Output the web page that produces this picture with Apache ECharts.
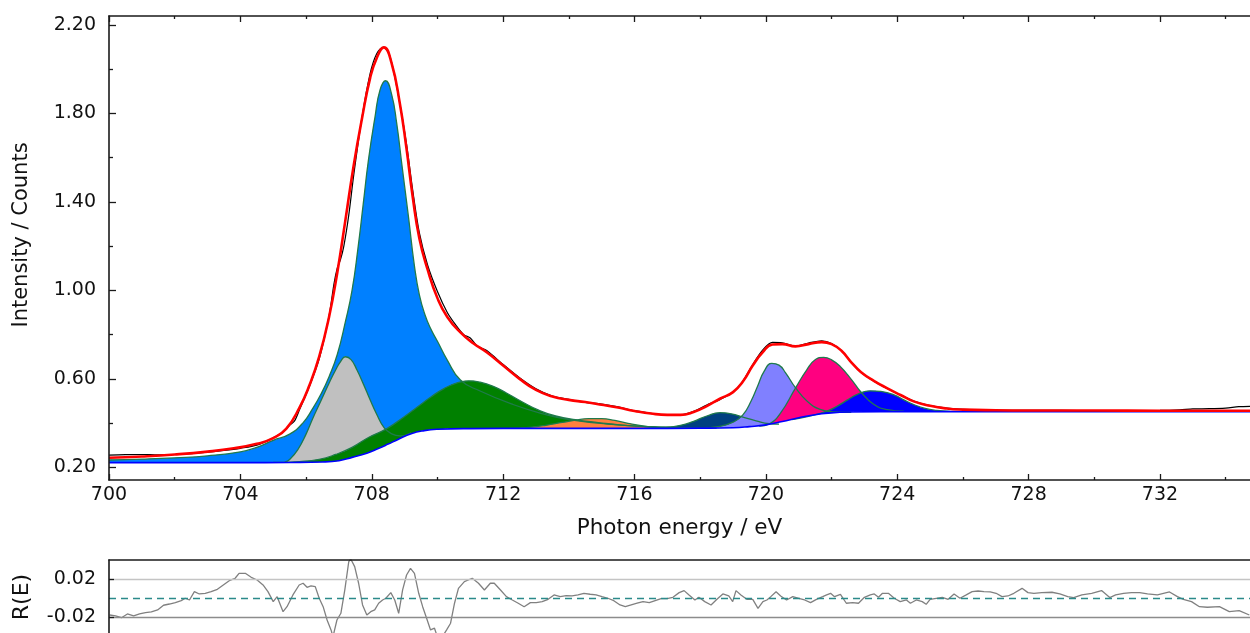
<!DOCTYPE html>
<html>
<head>
<meta charset="utf-8">
<script src="https://cdn.jsdelivr.net/npm/echarts@6/dist/echarts.min.js"></script>
<style>
  html, body { margin: 0; padding: 0; background: #fff; }
  #chart { width: 1250px; height: 633px; }
</style>
</head>
<body>
<div id="chart"></div>
<script>
// Fe 2p spectrum: measured counts, fit envelope, Shirley background and fit components
// Each list holds [photon energy (eV), intensity] pairs.
const measured = [[700.0,0.255],[700.5,0.257],[701.0,0.258],[701.5,0.256],[702.0,0.258],[702.5,0.262],[703.0,0.268],[703.5,0.276],[704.0,0.286],[704.5,0.30],[705.0,0.333],[705.3,0.36],[705.5,0.39],[705.65,0.41],[705.8,0.46],[706.1,0.565],[706.4,0.69],[706.7,0.885],[706.85,1.03],[706.95,1.10],[707.05,1.14],[707.15,1.20],[707.3,1.34],[707.45,1.52],[707.7,1.78],[707.95,1.98],[708.15,2.07],[708.35,2.10],[708.55,2.06],[708.8,1.89],[709.05,1.67],[709.25,1.45],[709.45,1.26],[709.7,1.115],[710.0,0.995],[710.3,0.90],[710.55,0.845],[710.8,0.80],[711.0,0.785],[711.2,0.75],[711.5,0.728],[712.0,0.665],[712.5,0.605],[713.0,0.555],[713.5,0.522],[714.0,0.507],[714.5,0.494],[715.0,0.486],[715.5,0.473],[716.0,0.456],[716.5,0.444],[717.0,0.436],[717.4,0.437],[717.8,0.453],[718.2,0.482],[718.6,0.506],[719.0,0.54],[719.3,0.59],[719.6,0.665],[719.9,0.73],[720.2,0.765],[720.5,0.763],[720.9,0.748],[721.3,0.762],[721.7,0.772],[722.0,0.76],[722.3,0.728],[722.6,0.676],[722.9,0.628],[723.3,0.588],[723.7,0.556],[724.1,0.526],[724.5,0.50],[725.0,0.479],[725.5,0.468],[726.0,0.462],[727.0,0.458],[728.0,0.457],[729.0,0.457],[730.0,0.456],[731.0,0.456],[732.0,0.457],[732.6,0.46],[733.0,0.464],[733.5,0.465],[734.0,0.468],[734.4,0.474],[734.75,0.476]];

const envelope = [[700.0,0.243],[701.0,0.249],[702.0,0.258],[703.0,0.271],[703.8,0.286],[704.5,0.306],[705.0,0.332],[705.4,0.375],[705.8,0.47],[706.1,0.57],[706.4,0.70],[706.7,0.88],[706.95,1.08],[707.2,1.32],[707.45,1.565],[707.7,1.775],[707.95,1.96],[708.15,2.05],[708.37,2.099],[708.6,2.03],[708.85,1.85],[709.05,1.65],[709.25,1.42],[709.45,1.235],[709.7,1.095],[710.0,0.965],[710.3,0.88],[710.7,0.81],[711.1,0.76],[711.5,0.72],[712.0,0.66],[712.5,0.60],[713.0,0.55],[713.5,0.52],[714.0,0.505],[714.5,0.495],[715.0,0.483],[715.5,0.47],[716.0,0.455],[716.5,0.443],[717.0,0.437],[717.4,0.437],[717.8,0.45],[718.2,0.477],[718.6,0.51],[719.0,0.54],[719.3,0.588],[719.6,0.66],[719.9,0.72],[720.2,0.755],[720.5,0.757],[720.9,0.747],[721.3,0.757],[721.7,0.766],[722.0,0.757],[722.3,0.727],[722.6,0.675],[722.9,0.63],[723.3,0.59],[723.7,0.557],[724.1,0.527],[724.5,0.498],[725.0,0.478],[725.5,0.466],[726.0,0.461],[727.0,0.458],[728.0,0.457],[730.0,0.457],[732.0,0.456],[734.75,0.456]];

const background = [[700.0,0.221],[704.0,0.221],[705.5,0.222],[706.5,0.224],[707.0,0.23],[707.4,0.245],[707.85,0.264],[708.2,0.285],[708.5,0.305],[708.8,0.326],[709.2,0.352],[709.6,0.366],[710.0,0.372],[711.0,0.375],[713.0,0.376],[716.0,0.376],[718.0,0.377],[719.0,0.379],[719.5,0.384],[720.0,0.392],[720.5,0.407],[721.0,0.424],[721.5,0.438],[722.0,0.446],[722.5,0.45],[723.5,0.452],[734.75,0.452]];

// fit components (upper outline, background included)
const peakMain = [[700.0,0.233],[701.0,0.237],[702.0,0.243],[703.0,0.252],[704.0,0.27],[704.5,0.29],[705.0,0.322],[705.5,0.35],[705.9,0.40],[706.2,0.465],[706.45,0.53],[706.7,0.61],[706.95,0.71],[707.2,0.86],[707.4,1.0],[707.58,1.19],[707.74,1.39],[707.9,1.59],[708.1,1.785],[708.25,1.905],[708.42,1.948],[708.6,1.89],[708.76,1.755],[708.92,1.565],[709.12,1.33],[709.3,1.11],[709.45,0.98],[709.62,0.89],[709.8,0.825],[710.0,0.77],[710.3,0.685],[710.7,0.595],[711.3,0.545],[712.3,0.484],[713.3,0.438],[714.0,0.416],[715.3,0.394],[716.4,0.384],[717.5,0.379],[718.5,0.377]];
const peakLow = [[705.35,0.223],[705.5,0.235],[705.75,0.28],[706.0,0.35],[706.2,0.42],[706.45,0.50],[706.7,0.58],[706.9,0.64],[707.05,0.678],[707.2,0.70],[707.37,0.687],[707.55,0.64],[707.75,0.575],[707.95,0.505],[708.15,0.44],[708.38,0.378],[708.6,0.352],[708.86,0.342],[709.2,0.356]];
const peakBroad = [[705.0,0.222],[705.8,0.226],[706.4,0.236],[706.9,0.258],[707.4,0.29],[707.9,0.335],[708.46,0.375],[709.0,0.43],[709.4,0.474],[709.8,0.518],[710.2,0.556],[710.6,0.582],[710.95,0.591],[711.3,0.585],[711.7,0.566],[712.1,0.536],[712.6,0.494],[713.1,0.457],[713.6,0.432],[714.2,0.415],[714.9,0.402],[715.6,0.391],[716.4,0.384],[717.3,0.379],[718.0,0.377]];
const peakSat = [[712.2,0.376],[712.8,0.381],[713.3,0.39],[713.8,0.403],[714.2,0.413],[714.6,0.42],[715.0,0.42],[715.4,0.412],[715.8,0.399],[716.3,0.386],[716.8,0.378],[717.3,0.376]];
const peakPre = [[716.3,0.376],[716.9,0.38],[717.4,0.39],[717.8,0.408],[718.2,0.432],[718.6,0.447],[718.95,0.442],[719.3,0.427],[719.7,0.41],[720.1,0.397],[720.4,0.395]];
const peak2pA = [[718.0,0.378],[718.6,0.385],[719.0,0.404],[719.3,0.437],[719.55,0.5],[719.75,0.568],[719.95,0.635],[720.18,0.67],[720.4,0.662],[720.6,0.627],[720.9,0.56],[721.25,0.50],[721.65,0.462],[722.1,0.45],[722.6,0.449]];
const peak2pB = [[719.8,0.386],[720.1,0.396],[720.45,0.446],[720.9,0.558],[721.25,0.642],[721.5,0.686],[721.76,0.697],[722.0,0.686],[722.27,0.655],[722.6,0.598],[722.88,0.543],[723.28,0.485],[723.7,0.461],[724.2,0.454]];
const peak2pC = [[720.8,0.416],[721.3,0.43],[721.86,0.454],[722.2,0.479],[722.5,0.506],[722.8,0.531],[723.18,0.546],[723.5,0.543],[723.9,0.528],[724.2,0.505],[724.5,0.484],[724.85,0.466],[725.2,0.457],[725.6,0.453]];

// residual R(E)
const residual = [[700.02,-0.0175],[700.20,-0.0185],[700.38,-0.0203],[700.56,-0.0164],[700.75,-0.0185],[700.93,-0.0164],[701.11,-0.0150],[701.29,-0.0143],[701.48,-0.0122],[701.66,-0.0073],[701.84,-0.0060],[702.02,-0.0046],[702.20,-0.0025],[702.32,0.0000],[702.45,-0.0018],[702.60,0.0069],[702.75,0.0045],[702.93,0.0052],[703.11,0.0069],[703.30,0.0094],[703.48,0.0139],[703.66,0.0184],[703.84,0.0209],[703.96,0.0261],[704.15,0.0261],[704.33,0.0219],[704.51,0.0191],[704.69,0.0139],[704.84,0.0069],[705.00,-0.0035],[705.12,0.0017],[705.30,-0.0140],[705.42,-0.0088],[705.60,0.0035],[705.79,0.0139],[705.91,0.0157],[706.03,0.0115],[706.15,0.0129],[706.28,0.0122],[706.40,0.0000],[706.52,-0.0088],[706.64,-0.0227],[706.76,-0.0331],[706.82,-0.0401],[706.94,-0.0227],[707.06,-0.0157],[707.18,0.0087],[707.30,0.0383],[707.36,0.0410],[707.48,0.0331],[707.60,0.0157],[707.72,-0.0070],[707.85,-0.0175],[707.97,-0.0140],[708.09,-0.0122],[708.21,-0.0052],[708.33,-0.0018],[708.43,0.0000],[708.58,0.0059],[708.70,-0.0018],[708.82,-0.0157],[708.94,0.0087],[709.06,0.0243],[709.18,0.0313],[709.30,0.0261],[709.43,0.0052],[709.55,-0.0088],[709.67,-0.0209],[709.79,-0.0331],[709.91,-0.0313],[710.03,-0.0436],[710.15,-0.0401],[710.28,-0.0331],[710.40,-0.0261],[710.52,-0.0052],[710.64,0.0104],[710.82,0.0174],[711.06,0.0209],[711.25,0.0157],[711.43,0.0087],[711.61,0.0157],[711.73,0.0157],[711.92,0.0087],[712.10,0.0017],[712.28,-0.0018],[712.46,-0.0052],[712.64,-0.0088],[712.83,-0.0046],[713.01,-0.0046],[713.19,-0.0035],[713.37,-0.0011],[713.55,0.0035],[713.74,0.0017],[713.92,0.0028],[714.10,0.0024],[714.28,0.0035],[714.46,0.0052],[714.65,0.0042],[714.83,0.0035],[715.01,0.0017],[715.19,0.0000],[715.37,-0.0025],[715.56,-0.0070],[715.72,-0.0088],[715.90,-0.0070],[716.08,-0.0052],[716.26,-0.0035],[716.45,-0.0046],[716.63,-0.0025],[716.81,-0.0004],[716.99,-0.0004],[717.17,0.0010],[717.36,0.0059],[717.51,0.0080],[717.66,0.0035],[717.84,-0.0018],[717.96,0.0010],[718.14,-0.0035],[718.33,-0.0070],[718.51,-0.0011],[718.69,0.0045],[718.87,0.0024],[718.99,-0.0035],[719.09,0.0080],[719.24,0.0035],[719.42,-0.0011],[719.60,-0.0011],[719.76,-0.0105],[719.91,-0.0035],[720.03,-0.0018],[720.15,0.0017],[720.31,0.0069],[720.45,0.0024],[720.63,-0.0018],[720.82,0.0017],[721.00,0.0000],[721.18,-0.0018],[721.36,-0.0046],[721.54,-0.0011],[721.73,0.0017],[721.85,0.0035],[721.97,0.0052],[722.09,0.0017],[722.27,0.0041],[722.45,-0.0052],[722.64,-0.0046],[722.82,-0.0052],[723.00,0.0010],[723.18,0.0035],[723.30,0.0045],[723.43,0.0010],[723.55,0.0052],[723.73,0.0052],[723.91,0.0000],[724.09,-0.0035],[724.28,-0.0018],[724.40,-0.0052],[724.58,-0.0018],[724.76,-0.0035],[724.88,-0.0063],[725.00,-0.0011],[725.19,0.0000],[725.37,0.0010],[725.55,-0.0011],[725.73,0.0045],[725.91,0.0000],[726.10,0.0035],[726.28,0.0069],[726.46,0.0076],[726.64,0.0069],[726.83,0.0066],[727.01,0.0052],[727.19,0.0017],[727.37,0.0024],[727.55,0.0052],[727.80,0.0104],[727.98,0.0059],[728.16,0.0052],[728.40,0.0059],[728.71,0.0063],[728.95,0.0045],[729.19,0.0017],[729.37,0.0007],[729.62,0.0035],[729.92,0.0052],[730.22,0.0080],[730.47,0.0007],[730.65,0.0035],[730.89,0.0052],[731.13,0.0059],[731.38,0.0059],[731.62,0.0045],[731.92,0.0035],[732.29,0.0066],[732.53,0.0017],[732.71,-0.0011],[732.96,-0.0035],[733.20,-0.0088],[733.44,-0.0094],[733.81,-0.0088],[734.11,-0.0140],[734.41,-0.0129],[734.72,-0.0175]];

// axis ticks and labels
const energyLabels = [700, 704, 708, 712, 716, 720, 724, 728, 732];
const energyMinor = [702, 706, 710, 714, 718, 722, 726, 730, 734];
const intensityLabels = [0.2, 0.6, 1.0, 1.4, 1.8, 2.2];
const intensityMinor = [0.4, 0.8, 1.2, 1.6, 2.0];
const residualLabels = [-0.02, 0.02];
const residualGuides = [0.02, -0.02, 0];

const FONT = "'DejaVu Sans', 'Liberation Sans', sans-serif";
const AXIS_COLOR = '#1a1a1a';
const OUTLINE = '#1f7a4c';

const components = [
  { data: peakMain,  color: '#0080ff' },
  { data: peakLow,   color: '#c0c0c0' },
  { data: peakBroad, color: '#008000' },
  { data: peakSat,   color: '#ff8040' },
  { data: peakPre,   color: '#004080' },
  { data: peak2pA,   color: '#8080ff' },
  { data: peak2pB,   color: '#ff0080' },
  { data: peak2pC,   color: '#0000ff' }
];

function curve(data, extra) {
  return Object.assign({
    type: 'line', xAxisIndex: 0, yAxisIndex: 0, data: data,
    smooth: 0.5, symbol: 'none', silent: true
  }, extra);
}

const series = [];
// filled components, painted over each other in order
components.forEach(c => series.push(curve(c.data, {
  lineStyle: { width: 0, opacity: 0 },
  areaStyle: { color: c.color, opacity: 1, origin: 'start' }
})));
// clear everything below the background
series.push(curve(background, {
  lineStyle: { width: 0, opacity: 0 },
  areaStyle: { color: '#ffffff', opacity: 1, origin: 'start' }
}));
// component outlines
components.forEach(c => series.push(curve(c.data, {
  lineStyle: { width: 1.3, color: OUTLINE }
})));
series.push(curve(background, { lineStyle: { width: 1.6, color: '#0000ff' } }));
series.push(curve(measured, { smooth: 0.3, lineStyle: { width: 1.2, color: '#000000' } }));
series.push(curve(envelope, { lineStyle: { width: 2.6, color: '#ff0000' } }));
// residual panel
series.push({
  type: 'line', xAxisIndex: 4, yAxisIndex: 2, data: residual,
  symbol: 'none', silent: true,
  lineStyle: { width: 1.3, color: '#808080' },
  markLine: {
    silent: true, symbol: ['none', 'none'], label: { show: false },
    data: residualGuides.map((v, i) => ({
      yAxis: v,
      lineStyle: i === 2 ? { color: '#2b8a8a', type: [7, 5], width: 1.3 }
                         : { color: i === 0 ? '#c4c4c4' : '#8c8c8c', type: 'solid', width: 1.3 }
    }))
  }
});

const tickLabelStyle = { fontFamily: FONT, fontSize: 19, color: '#111' };
const line = { show: true, onZero: false, lineStyle: { color: AXIS_COLOR, width: 1.6 } };
const noLine = { show: false };

const option = {
  animation: false,
  backgroundColor: '#ffffff',
  grid: [
    { left: 109, top: 16, right: 0, height: 464 },
    { left: 109, top: 560, right: 0, height: 73 }
  ],
  xAxis: [
    { gridIndex: 0, type: 'value', min: 700, max: 734.74, position: 'bottom', z: 10,
      axisLine: line,
      axisTick: { inside: true, length: 6, customValues: energyLabels, lineStyle: { color: AXIS_COLOR, width: 1.3 } },
      axisLabel: Object.assign({ customValues: energyLabels, margin: 6, formatter: v => String(Math.round(v)) }, tickLabelStyle),
      splitLine: { show: false },
      name: 'Photon energy / eV', nameLocation: 'middle', nameGap: 37,
      nameTextStyle: { fontFamily: FONT, fontSize: 21.5, color: '#111' } },
    { gridIndex: 0, type: 'value', min: 700, max: 734.74, position: 'bottom', z: 10,
      axisLine: noLine,
      axisTick: { inside: true, length: 3, customValues: energyMinor, lineStyle: { color: AXIS_COLOR, width: 1.3 } },
      axisLabel: { show: false }, splitLine: { show: false } },
    { gridIndex: 0, type: 'value', min: 700, max: 734.74, position: 'top', z: 10,
      axisLine: line,
      axisTick: { inside: true, length: 6, customValues: energyLabels, lineStyle: { color: AXIS_COLOR, width: 1.3 } },
      axisLabel: { show: false }, splitLine: { show: false } },
    { gridIndex: 0, type: 'value', min: 700, max: 734.74, position: 'top', z: 10,
      axisLine: noLine,
      axisTick: { inside: true, length: 3, customValues: energyMinor, lineStyle: { color: AXIS_COLOR, width: 1.3 } },
      axisLabel: { show: false }, splitLine: { show: false } },
    { gridIndex: 1, type: 'value', min: 700, max: 734.74, position: 'top', z: 10,
      axisLine: line, axisTick: { show: false }, axisLabel: { show: false }, splitLine: { show: false } }
  ],
  yAxis: [
    { gridIndex: 0, type: 'value', min: 0.1426, max: 2.2407, position: 'left', z: 10,
      axisLine: line,
      axisTick: { inside: true, length: 7, customValues: intensityLabels, lineStyle: { color: AXIS_COLOR, width: 1.3 } },
      axisLabel: Object.assign({ customValues: intensityLabels, margin: 13, formatter: v => v.toFixed(2) }, tickLabelStyle),
      splitLine: { show: false } },
    { gridIndex: 0, type: 'value', min: 0.1426, max: 2.2407, position: 'left', z: 10,
      axisLine: noLine,
      axisTick: { inside: true, length: 4, customValues: intensityMinor, lineStyle: { color: AXIS_COLOR, width: 1.3 } },
      axisLabel: { show: false }, splitLine: { show: false } },
    { gridIndex: 1, type: 'value', min: -0.0363, max: 0.04, position: 'left', z: 10,
      axisLine: line,
      axisTick: { inside: true, length: 5, customValues: residualLabels, lineStyle: { color: AXIS_COLOR, width: 1.3 } },
      axisLabel: Object.assign({ customValues: residualLabels, margin: 13, formatter: v => v.toFixed(2) }, tickLabelStyle),
      splitLine: { show: false } }
  ],
  graphic: [
    { type: 'text', x: 22, y: 235, rotation: Math.PI / 2, silent: true,
      style: { text: 'Intensity / Counts', fontFamily: FONT, fontSize: 21, fill: '#111', align: 'center', verticalAlign: 'middle' } },
    { type: 'text', x: 22, y: 597, rotation: Math.PI / 2, silent: true,
      style: { text: 'R(E)', fontFamily: FONT, fontSize: 22, fill: '#111', align: 'center', verticalAlign: 'middle' } }
  ],
  series: series
};

const chart = echarts.init(document.getElementById('chart'), null, { renderer: 'canvas' });
chart.setOption(option);
</script>
</body>
</html>
